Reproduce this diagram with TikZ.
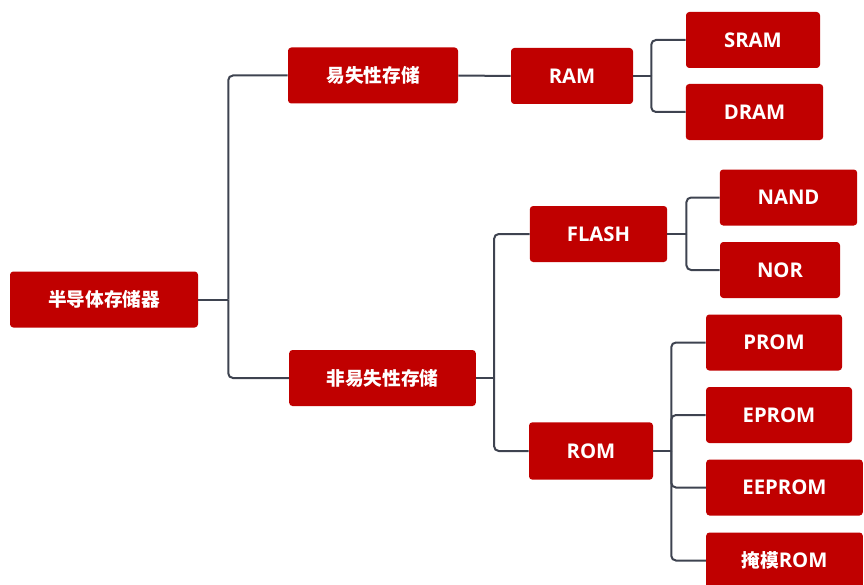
\documentclass[tikz,border=0pt]{standalone}
\usepackage{fontspec}
\setmainfont{Open Sans}
\newfontfamily\cjk{Noto Sans CJK SC}
\newcommand{\cjktext}[1]{{\cjk\fontsize{14}{16}\selectfont\bfseries #1}}
\definecolor{boxred}{HTML}{C00000}
\definecolor{linegray}{HTML}{3E4350}
\begin{document}
\begin{tikzpicture}[x=0.75pt,y=-0.75pt,
  box/.style={draw=none,fill=boxred,rounded corners=2.5pt,text=white,
    font=\fontsize{15.2}{17}\selectfont\bfseries,inner sep=0pt,
    minimum height=42pt,anchor=center},
  conn/.style={draw=linegray,line width=1.5pt},
  elbow/.style={conn,rounded corners=3.5pt}]
\useasboundingbox (0,0) rectangle (864,585);
\begin{scope}
\clip (0,0) rectangle (864,585);
\node[box,minimum width=141pt] (root) at (104,299.5) {\cjktext{半导体存储器}};
\node[box,minimum width=127.5pt] (vol) at (373,75.5) {\cjktext{易失性存储}};
\node[box,minimum width=140pt] (nonvol) at (382.5,378) {\cjktext{非易失性存储}};
\node[box,minimum width=91.5pt] (ram) at (572,76) {RAM};
\node[box,minimum width=100.5pt] (sram) at (753,40) {SRAM};
\node[box,minimum width=103pt] (dram) at (754.5,112) {DRAM};
\node[box,minimum width=103pt] (flash) at (598.5,234) {FLASH};
\node[box,minimum width=103pt] (nand) at (788.5,197.5) {NAND};
\node[box,minimum width=90pt] (nor) at (780,270) {NOR};
\node[box,minimum width=93pt,minimum height=43pt] (rom) at (591,451) {ROM};
\node[box,minimum width=102pt] (prom) at (774,342.5) {PROM};
\node[box,minimum width=109.5pt] (eprom) at (779,415) {EPROM};
\node[box,minimum width=117.5pt] (eeprom) at (784.5,487.5) {EEPROM};
\node[box,minimum width=117.5pt] (mask) at (784.5,560.5) {\cjktext{掩模}ROM};

\draw[conn] (root.east) -- ++(30,0) coordinate (b0);
\draw[elbow] (b0) |- (vol.west);
\draw[elbow] (b0) |- (nonvol.west);

\draw[conn] (vol.east) -- (ram.west);

\draw[conn] (ram.east) -- ++(18,0) coordinate (b1);
\draw[elbow] (b1) |- (sram.west);
\draw[elbow] (b1) |- (dram.west);

\draw[conn] (nonvol.east) -- ++(18,0) coordinate (b2);
\draw[elbow] (b2) |- (flash.west);
\draw[elbow] (b2) |- (rom.west);

\draw[conn] (flash.east) -- ++(19,0) coordinate (b3);
\draw[elbow] (b3) |- (nand.west);
\draw[elbow] (b3) |- (nor.west);

\draw[conn] (rom.east) -- ++(18,0) coordinate (b4);
\draw[elbow] (b4) |- (prom.west);
\draw[elbow] (b4) |- (eprom.west);
\draw[elbow] (b4) |- (eeprom.west);
\draw[elbow] (b4) |- (mask.west);
\end{scope}
\end{tikzpicture}
\end{document}
